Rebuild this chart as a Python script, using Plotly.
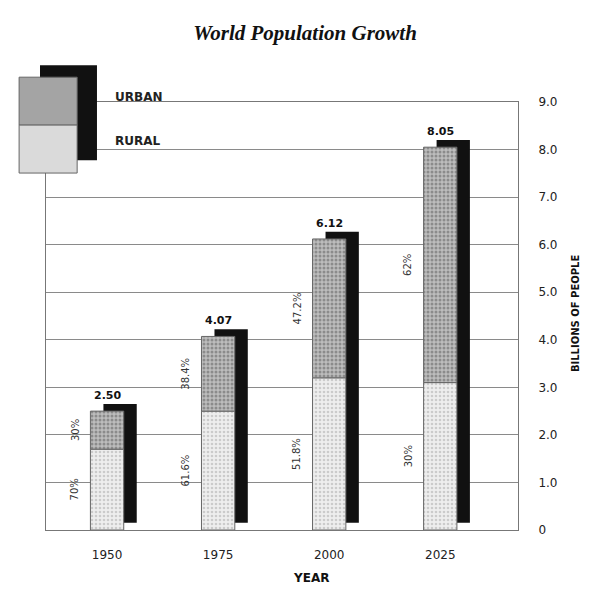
import plotly.graph_objects as go

# values
years = ["1950", "1975", "2000", "2025"]
totals = [2.50, 4.07, 6.12, 8.05]
rural = [1.70, 2.50, 3.20, 3.10]
urban = [t - r for t, r in zip(totals, rural)]
total_labels = ["2.50", "4.07", "6.12", "8.05"]
urban_labels = ["30%", "38.4%", "47.2%", "62%"]
rural_labels = ["70%", "61.6%", "51.8%", "30%"]
ytick_vals = [0, 1, 2, 3, 4, 5, 6, 7, 8, 9]
ytick_text = ["0", "1.0", "2.0", "3.0", "4.0", "5.0", "6.0", "7.0", "8.0", "9.0"]

SANS = "DejaVu Sans, Verdana, sans-serif"
BAR_W = 0.3
SHADOW_DX = 0.117   # shadow offset to the right (category units)
SHADOW_DY = 0.15    # shadow offset upwards (billions)

RURAL_BG, RURAL_FG = "#eeeeee", "#a8a8a8"
URBAN_BG, URBAN_FG = "#bdbdbd", "#5a5a5a"

fig = go.Figure()

# black drop shadow behind each bar
fig.add_trace(go.Bar(
    x=years, y=totals, base=SHADOW_DY,
    width=BAR_W, offset=-BAR_W / 2 + SHADOW_DX,
    marker=dict(color="#111111", line=dict(width=0)),
    hoverinfo="skip", showlegend=False
))

# rural part
fig.add_trace(go.Bar(
    x=years, y=rural, name="RURAL",
    width=BAR_W, offset=-BAR_W / 2,
    marker=dict(color=RURAL_BG, line=dict(color="#666666", width=1),
                pattern=dict(shape=".", bgcolor=RURAL_BG, fgcolor=RURAL_FG,
                             size=4, solidity=0.35)),
    showlegend=False
))

# urban part stacked on top
fig.add_trace(go.Bar(
    x=years, y=urban, base=rural, name="URBAN",
    width=BAR_W, offset=-BAR_W / 2,
    marker=dict(color=URBAN_BG, line=dict(color="#666666", width=1),
                pattern=dict(shape=".", bgcolor=URBAN_BG, fgcolor=URBAN_FG,
                             size=4, solidity=0.45)),
    showlegend=False
))

annotations = []
for i, yr in enumerate(years):
    # totals above the bars
    annotations.append(dict(
        x=i, y=totals[i] + SHADOW_DY, xref="x", yref="y",
        text="<b>" + total_labels[i] + "</b>", showarrow=False,
        xanchor="center", yanchor="bottom",
        font=dict(family=SANS, size=11, color="#111111")
    ))
    # share labels, rotated, left of the bars
    annotations.append(dict(
        x=i - 0.29, y=rural[i] + urban[i] / 2, xref="x", yref="y",
        text=urban_labels[i], showarrow=False, textangle=-90,
        xanchor="center", yanchor="middle",
        font=dict(family=SANS, size=10, color="#333333")
    ))
    annotations.append(dict(
        x=i - 0.29, y=rural[i] / 2, xref="x", yref="y",
        text=rural_labels[i], showarrow=False, textangle=-90,
        xanchor="center", yanchor="middle",
        font=dict(family=SANS, size=10, color="#333333")
    ))

# axis titles and legend texts
annotations += [
    dict(x=0.561, y=-0.112, xref="paper", yref="paper", text="<b>YEAR</b>",
         showarrow=False, xanchor="center", yanchor="middle",
         font=dict(family=SANS, size=12, color="#111111")),
    dict(x=1.121, y=0.507, xref="paper", yref="paper",
         text="<b>BILLIONS OF PEOPLE</b>", textangle=-90, showarrow=False,
         xanchor="center", yanchor="middle",
         font=dict(family=SANS, size=10, color="#111111")),
    dict(x=0.142, y=1.012, xref="paper", yref="paper", text="<b>URBAN</b>",
         xanchor="left", yanchor="middle", showarrow=False,
         font=dict(family=SANS, size=12, color="#222222")),
    dict(x=0.142, y=0.909, xref="paper", yref="paper", text="<b>RURAL</b>",
         xanchor="left", yanchor="middle", showarrow=False,
         font=dict(family=SANS, size=12, color="#222222")),
]

# legend swatch drawn over the top-left corner of the frame
shapes = [
    dict(type="rect", xref="paper", yref="paper", layer="above",
         x0=-0.0127, x1=0.108, y0=0.864, y1=1.086,
         fillcolor="#111111", line=dict(width=0)),
    dict(type="rect", xref="paper", yref="paper", layer="above",
         x0=-0.057, x1=0.066, y0=0.946, y1=1.058,
         fillcolor="#a4a4a4", line=dict(color="#666666", width=1)),
    dict(type="rect", xref="paper", yref="paper", layer="above",
         x0=-0.057, x1=0.066, y0=0.834, y1=0.946,
         fillcolor="#dadada", line=dict(color="#666666", width=1)),
]

fig.update_layout(
    width=600, height=592,
    margin=dict(l=38, r=90, t=94, b=70),
    paper_bgcolor="white", plot_bgcolor="white",
    barmode="overlay",
    title=dict(text="<b><i>World Population Growth</i></b>",
               x=0.495, xanchor="center", y=0.958, yanchor="middle",
               font=dict(family="Liberation Serif, Times New Roman, serif",
                         size=21, color="#111111")),
    xaxis=dict(
        type="category", range=[-0.55, 3.70],
        showline=True, mirror=True, linecolor="#777777", linewidth=1,
        showgrid=False, ticks="", ticklabelstandoff=14,
        tickfont=dict(family=SANS, size=12, color="#222222")
    ),
    yaxis=dict(
        side="right", range=[0, 9],
        tickvals=ytick_vals, ticktext=ytick_text,
        showline=True, mirror=True, linecolor="#777777", linewidth=1,
        showgrid=True, gridcolor="#8a8a8a", gridwidth=1,
        zeroline=False, ticks="", ticklabelstandoff=17,
        tickfont=dict(family=SANS, size=12, color="#222222")
    ),
    annotations=annotations,
    shapes=shapes,
)

fig.write_html("out.html")
